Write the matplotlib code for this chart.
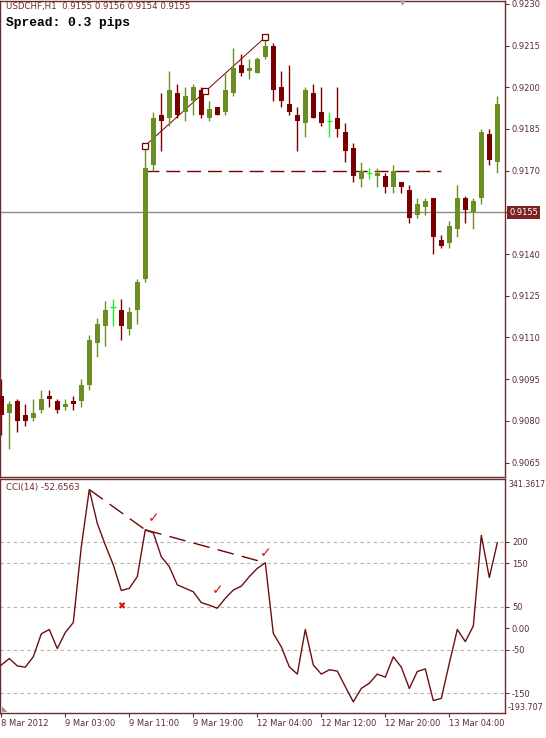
import numpy as np
import matplotlib
matplotlib.use('Agg')
import matplotlib.pyplot as plt
import matplotlib.transforms as mtrans

plt.rcParams['font.family'] = ['DejaVu Sans']

# USDCHF H1 candles (bar 0 = 8 Mar 2012 19:00)
opens = [0.9089, 0.9083, 0.9087, 0.9082, 0.9081, 0.9084, 0.9089, 0.9087, 0.9085, 0.9087,
         0.9087, 0.9093, 0.9108, 0.9114, 0.9121, 0.9120, 0.9113, 0.9120, 0.9131, 0.9172,
         0.9190, 0.9189, 0.9198, 0.9191, 0.9195, 0.9199, 0.9189, 0.9193, 0.9191, 0.9198,
         0.9208, 0.9206, 0.9205, 0.9211, 0.9215, 0.9200, 0.9194, 0.9190, 0.9187, 0.9198,
         0.9191, 0.9188, 0.9189, 0.9184, 0.9178, 0.9167, 0.9169, 0.9168, 0.9168, 0.9164,
         0.9166, 0.9163, 0.9154, 0.9157, 0.9160, 0.9145, 0.9144, 0.9149, 0.9160, 0.9155,
         0.9160, 0.9183, 0.9173]
highs = [0.9095, 0.9087, 0.9088, 0.9086, 0.9088, 0.9091, 0.9091, 0.9088, 0.9088, 0.9089,
         0.9095, 0.9111, 0.9117, 0.9123, 0.9124, 0.9124, 0.9121, 0.9131, 0.9179, 0.9191,
         0.9198, 0.9206, 0.9201, 0.9200, 0.9201, 0.9200, 0.9195, 0.9193, 0.9205, 0.9214,
         0.9212, 0.9210, 0.9211, 0.9218, 0.9216, 0.9206, 0.9208, 0.9193, 0.9200, 0.9201,
         0.9200, 0.9191, 0.9200, 0.9187, 0.9180, 0.9173, 0.9171, 0.9171, 0.9169, 0.9172,
         0.9166, 0.9165, 0.9160, 0.9160, 0.9160, 0.9147, 0.9152, 0.9165, 0.9161, 0.9160,
         0.9185, 0.9185, 0.9197]
lows = [0.9075, 0.9070, 0.9076, 0.9078, 0.9080, 0.9083, 0.9085, 0.9083, 0.9084, 0.9084,
        0.9085, 0.9091, 0.9103, 0.9107, 0.9114, 0.9109, 0.9111, 0.9115, 0.9130, 0.9170,
        0.9177, 0.9186, 0.9189, 0.9188, 0.9190, 0.9189, 0.9188, 0.9190, 0.9190, 0.9197,
        0.9204, 0.9203, 0.9205, 0.9210, 0.9195, 0.9193, 0.9190, 0.9177, 0.9182, 0.9189,
        0.9186, 0.9182, 0.9182, 0.9173, 0.9166, 0.9164, 0.9167, 0.9164, 0.9162, 0.9162,
        0.9162, 0.9151, 0.9153, 0.9154, 0.9140, 0.9142, 0.9142, 0.9146, 0.9151, 0.9149,
        0.9158, 0.9172, 0.9169]
closes = [0.9082, 0.9086, 0.9080, 0.9080, 0.9083, 0.9088, 0.9088, 0.9084, 0.9086, 0.9086,
          0.9093, 0.9109, 0.9115, 0.9120, 0.9121, 0.9114, 0.9119, 0.9130, 0.9171, 0.9189,
          0.9188, 0.9199, 0.9190, 0.9197, 0.9200, 0.9190, 0.9192, 0.9190, 0.9199, 0.9207,
          0.9205, 0.9207, 0.9210, 0.9215, 0.9199, 0.9195, 0.9191, 0.9188, 0.9199, 0.9189,
          0.9187, 0.9188, 0.9185, 0.9177, 0.9168, 0.9170, 0.9169, 0.9169, 0.9164, 0.9170,
          0.9164, 0.9153, 0.9158, 0.9159, 0.9146, 0.9143, 0.9150, 0.9160, 0.9156, 0.9159,
          0.9184, 0.9174, 0.9194]

# CCI(14)
cci = [-85, -70, -87, -90, -66, -13, -3, -47, -10, 13,
       188, 320, 242, 192, 146, 87, 92, 119, 227, 220,
       165, 142, 100, 92, 84, 59, 53, 46, 69, 88,
       97, 119, 138, 151, -12, -43, -89, -106, -3, -85,
       -106, -96, -99, -135, -170, -139, -127, -106, -113, -66,
       -90, -139, -100, -94, -167, -162, -81, -3, -31, 5,
       214, 117, 197]

time_ticks = [0, 8, 16, 24, 32, 40, 48, 56]
time_labels = ['8 Mar 2012', '9 Mar 03:00', '9 Mar 11:00', '9 Mar 19:00',
               '12 Mar 04:00', '12 Mar 12:00', '12 Mar 20:00', '13 Mar 04:00']

price_ticks = [0.9065, 0.9080, 0.9095, 0.9110, 0.9125, 0.9140, 0.9155,
               0.9170, 0.9185, 0.9200, 0.9215, 0.9230]
cci_levels = [200, 150, 50, -50, -150]
cci_ticks = [200, 150, 50, 0, -50, -150]
cci_tick_labels = ['200', '150', '50', '0.00', '-50', '-150']
cci_max, cci_min = 341.3617, -193.707

last_price = 0.9155
hline_price = 0.9170
trend_bars = [18, 33]          # price trendline between these highs
cci_div_bars = [11, 18, 33]    # dashed line over CCI peaks
check_bars = [19, 33, 27]
check_vals = [255, 174, 88]
cross_bar, cross_val = 15, 50

border = '#6b2b2b'
txtcol = '#5a2d2d'
bull = '#6b8e23'
bear = '#7a0000'
doji = '#22ee22'
fs = 6.0

fig = plt.figure(figsize=(5.46, 7.38), dpi=100)
ax = fig.add_axes([0.0009, 0.35366, 0.924, 0.64566])
ax2 = fig.add_axes([0.0009, 0.03455, 0.924, 0.3164], sharex=ax)

n = len(opens)
x = np.arange(n)
o = np.array(opens); h = np.array(highs); l = np.array(lows); c = np.array(closes)

# reference lines behind the candles
ax.axhline(last_price, color='#8c8c8c', lw=1, zorder=1)
ax.plot([trend_bars[0], 55], [hline_price, hline_price], color=bear, lw=1,
        dashes=(10, 5), zorder=1)
ty = [h[trend_bars[0]], h[trend_bars[1]]]
ax.plot(trend_bars, ty, color=bear, lw=0.7, zorder=1)
ax.plot([trend_bars[0], np.mean(trend_bars), trend_bars[1]],
        [ty[0], np.mean(ty), ty[1]], ls='none', marker='s', ms=4,
        mfc='white', mec=bear, mew=0.9, zorder=4)

for i in range(n):
    if o[i] == c[i]:
        col = doji
    elif c[i] > o[i]:
        col = bull
    else:
        col = bear
    ax.vlines(x[i], l[i], h[i], color=col, lw=1, zorder=2)
    if o[i] == c[i]:
        ax.hlines(o[i], x[i] - 0.35, x[i] + 0.35, color=col, lw=1, zorder=3)
    else:
        ax.bar(x[i], abs(c[i] - o[i]), bottom=min(o[i], c[i]), width=0.68,
               color=col, linewidth=0, zorder=3)

ax.set_xlim(-0.1, 62.96)
ax.set_ylim(0.90598, 0.92312)
ax.yaxis.tick_right()
ax.set_yticks(price_ticks)
# the current price gets its own boxed label
ax.set_yticklabels(['' if abs(p - last_price) < 1e-6 else '%.4f' % p for p in price_ticks])
ax.tick_params(axis='y', direction='out', length=3, width=0.8, color=border,
               labelcolor=txtcol, labelsize=fs, pad=2)
ax.tick_params(axis='x', bottom=False, labelbottom=False)
for s in ax.spines.values():
    s.set_color(border)
    s.set_linewidth(1)

bt1 = mtrans.blended_transform_factory(ax.transAxes, ax.transData)
ax.text(1.008, last_price, '%.4f' % last_price, transform=bt1,
        ha='left', va='center', fontsize=fs, color='white', clip_on=False,
        bbox=dict(boxstyle='square,pad=0.25', fc='#7b2323', ec='none'))

ax.text(0.01, 0.988, 'USDCHF,H1  0.9155 0.9156 0.9154 0.9155', transform=ax.transAxes,
        fontsize=6.2, color='#6b2b2b', ha='left', va='center')
ax.text(0.01, 0.952, 'Spread: 0.3 pips', transform=ax.transAxes,
        family='Liberation Mono', weight='bold', fontsize=9.4, color='black',
        ha='left', va='center')

# CCI panel
for lv in cci_levels:
    ax2.axhline(lv, color='#b4b4b4', lw=0.8, dashes=(3, 3), zorder=1)
ax2.plot(x, cci, color='#6b1010', lw=1, zorder=3)
cx = cci_div_bars
cy = [cci[b] for b in cx]
ax2.plot(cx[:2], cy[:2], color=bear, lw=1, dashes=(12, 6), zorder=2)
ax2.plot(cx[1:], cy[1:], color=bear, lw=1, dashes=(12, 6), zorder=2)
for b, v in zip(check_bars, check_vals):
    ax2.text(b, v, '\u2713', color='#e01010', fontsize=10, ha='center', va='center')
ax2.text(cross_bar, cross_val, '\u2716', color='#e01010', fontsize=7, ha='center', va='center')

ax2.set_ylim(-194.6, 344.3)
ax2.yaxis.tick_right()
ax2.set_yticks(cci_ticks)
ax2.set_yticklabels(cci_tick_labels)
ax2.tick_params(axis='y', direction='out', length=3, width=0.8, color=border,
                labelcolor=txtcol, labelsize=fs, pad=2)
ax2.set_xticks(time_ticks)
ax2.set_xticklabels(time_labels, ha='left')
ax2.tick_params(axis='x', direction='out', length=3, width=0.8, color=border,
                labelcolor=txtcol, labelsize=fs, pad=2)
for s in ax2.spines.values():
    s.set_color(border)
    s.set_linewidth(1)
bt = mtrans.blended_transform_factory(ax2.transAxes, ax2.transData)
ax2.text(1.006, cci_max, '%.4f' % cci_max, transform=bt, ha='left', va='top',
         fontsize=5.6, color=txtcol, clip_on=False)
ax2.text(1.006, cci_min, '%.3f' % cci_min, transform=bt, ha='left', va='bottom',
         fontsize=5.8, color=txtcol, clip_on=False)
ax2.text(0.01, 0.965, 'CCI(14) -52.6563', transform=ax2.transAxes, fontsize=6.2,
         color='#6b2b2b', ha='left', va='center')

fig.text(403 / 546, 1 - 3 / 738, '\u25bc', color='#a0a0a0', fontsize=5, ha='center', va='center')
fig.text(2 / 546, 1 - 709 / 738, '\u25e3', color='#909090', fontsize=5, ha='left', va='center')

fig.savefig('out.png', dpi=100)
